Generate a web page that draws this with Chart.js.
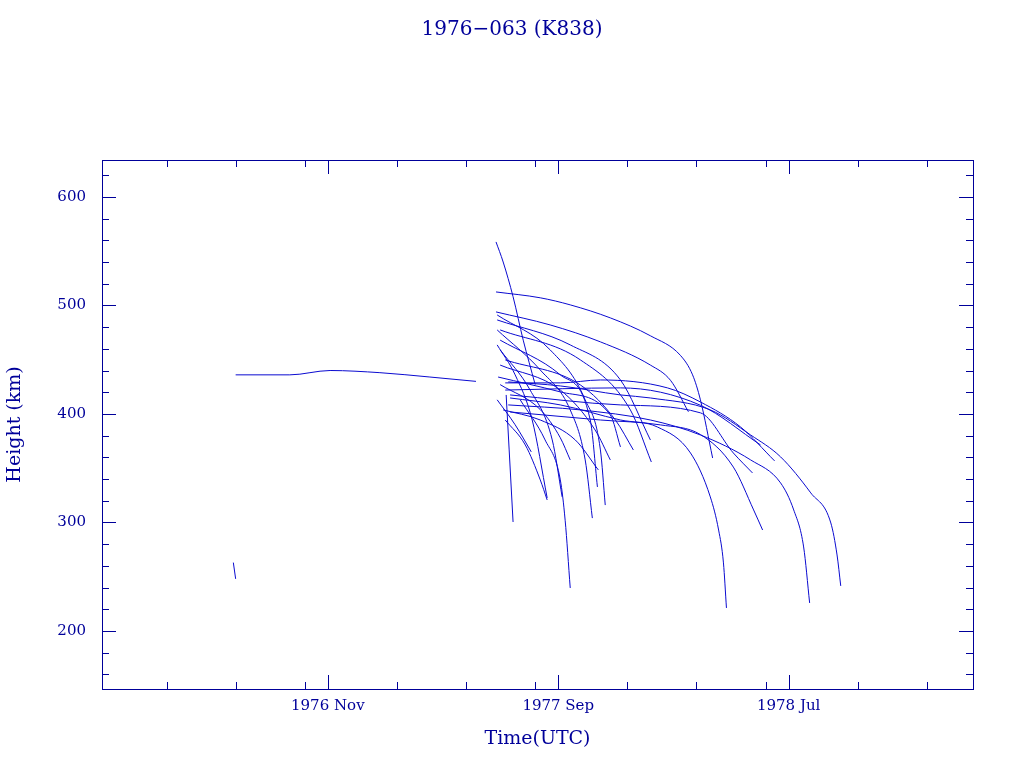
<!DOCTYPE html>
<html>
<head>
<meta charset="utf-8">
<script src="https://cdn.jsdelivr.net/npm/chart.js@4"></script>
<style>
  body { margin: 0; background: #fff; }
  #wrap { width: 1024px; height: 768px; }
</style>
</head>
<body>
<div id="wrap"><canvas id="chart" width="1024" height="768"></canvas></div>
<script>
// x values are months counted from 1976 Jan (0), y is height in km
const titleText = '1976\u2212063 (K838)';
const xMajorTicks = [10, 20, 30];
const xTickLabels = ['1976 Nov', '1977 Sep', '1978 Jul'];
const xMinorTicks = [3, 6, 9, 13, 16, 19, 23, 26, 29, 33, 36];
const yMajorTicks = [200, 300, 400, 500, 600];
const yMinorTicks = [160, 180, 220, 240, 260, 280, 320, 340, 360, 380, 420, 440, 460, 480, 520, 540, 560, 580, 620];

// each track: [month, km] pairs
const tracks = [
    [[6.0, 436], [8.35, 436], [10.1, 440], [12.26, 438], [14.43, 434], [16.43, 430]],
    [[5.9, 263], [6.0, 248]],
    [[17.30, 558.5], [17.61, 540], [18.04, 508], [18.48, 468], [19.0, 427]],
    [[17.3, 512.4], [19.22, 507], [20.52, 500.5], [22.26, 488.5], [24.0, 472], [25.3, 454], [25.83, 436], [26.17, 413], [26.7, 359.4]],
    [[17.3, 494], [19.65, 482], [21.83, 466.4], [24.0, 445], [24.87, 431], [25.65, 402]],
    [[17.83, 429.5], [20.09, 425.8], [22.7, 417.5], [24.0, 414.7], [26.6, 403.7], [28.35, 380.6], [29.65, 360.4], [30.96, 327.2], [31.83, 299.5], [32.1, 270], [32.26, 241.5]],
    [[17.83, 408.3], [20.96, 403.7], [24.0, 394.4], [26.17, 380.6], [28.35, 357.6], [29.65, 336.4], [30.22, 311.5], [30.65, 277.4], [30.91, 225.8]],
    [[17.91, 414.7], [20.09, 408.3], [22.7, 394.4], [24.3, 388], [25.74, 364], [26.6, 323.5], [26.96, 293], [27.17, 262.7], [27.3, 221.2]],
    [[17.91, 401.8], [21.83, 394.4], [24.43, 389.9], [26.17, 381], [27.6, 351], [28.48, 311.5], [28.87, 293]],
    [[17.91, 417.5], [22.7, 408.3], [26.17, 401], [27.6, 364], [28.43, 345.6]],
    [[17.7, 428.6], [20.09, 428.6], [21.83, 431.3], [24.74, 424], [26.17, 411], [27.91, 388], [29.39, 356.7]],
    [[17.7, 422], [22.7, 424], [26.17, 408], [28.78, 371.4]],
    [[17.74, 417.5], [17.87, 366.8], [18.04, 300.4]],
    [[18.35, 413], [19.43, 376], [20.09, 339.2], [20.3, 302], [20.52, 239.6]],
    [[17.35, 463.6], [18.13, 436], [18.87, 394.4], [19.52, 322.6]],
    [[17.48, 459], [18.78, 422], [19.74, 376], [20.17, 323.5]],
    [[17.35, 413], [18.13, 390], [18.83, 365]],
    [[17.48, 427], [19.22, 404], [20.09, 378], [20.52, 357.6]],
    [[17.35, 477.4], [19.22, 440.5], [20.52, 403.7], [21.17, 357.6], [21.48, 304]],
    [[17.35, 491.2], [19.65, 459], [21.17, 412.9], [21.83, 366.8], [22.04, 316]],
    [[17.48, 445], [20.09, 422], [21.6, 385.2], [22.26, 357.6]],
    [[17.48, 468], [20.09, 436], [21.39, 394.4], [21.7, 332.7]],
    [[17.7, 449.8], [20.96, 426.7], [22.48, 394.4], [23.26, 366.8]],
    [[17.35, 486.6], [20.52, 463.6], [22.7, 431.3], [24.0, 376]],
    [[17.48, 477.4], [20.96, 449.8], [23.13, 403.7], [24.04, 355.7]],
    [[17.7, 394.4], [18.57, 371.4], [19.22, 339.2], [19.52, 320.7]],
    [[17.61, 403.7], [19.22, 394.4], [20.74, 376], [21.74, 348.4]],
    [[17.39, 434], [20.09, 420.3], [22.26, 399], [22.7, 369.6]]
];

const lineColor = '#0a0ad0';
const axisColor = '#00009a';
const fontName = '"DejaVu Serif", "Liberation Serif", serif';

const datasets = tracks.map(t => ({
    data: t.map(p => ({ x: p[0], y: p[1] })),
    borderColor: lineColor,
    borderWidth: 1,
    pointRadius: 0,
    fill: false,
    cubicInterpolationMode: 'monotone'
}));

// frame, inward ticks and title, drawn like the original plot
const framePlugin = {
    id: 'frame',
    afterDraw(c) {
        const ctx = c.ctx, a = c.chartArea;
        const xs = c.scales.x, ys = c.scales.y;
        ctx.save();
        ctx.strokeStyle = axisColor;
        ctx.lineWidth = 1;
        ctx.strokeRect(a.left + 0.5, a.top + 0.5, a.right - a.left, a.bottom - a.top);
        ctx.beginPath();
        const tickX = (v, len) => {
            const px = Math.round(xs.getPixelForValue(v)) + 0.5;
            ctx.moveTo(px, a.bottom); ctx.lineTo(px, a.bottom - len);
            ctx.moveTo(px, a.top); ctx.lineTo(px, a.top + len);
        };
        const tickY = (v, len) => {
            const py = Math.round(ys.getPixelForValue(v)) + 0.5;
            ctx.moveTo(a.left, py); ctx.lineTo(a.left + len, py);
            ctx.moveTo(a.right, py); ctx.lineTo(a.right - len, py);
        };
        xMajorTicks.forEach(v => tickX(v, 14));
        xMinorTicks.forEach(v => tickX(v, 7));
        yMajorTicks.forEach(v => tickY(v, 14));
        yMinorTicks.forEach(v => tickY(v, 7));
        ctx.stroke();
        ctx.fillStyle = axisColor;
        ctx.font = '20px ' + fontName;
        ctx.textAlign = 'center';
        ctx.textBaseline = 'middle';
        ctx.fillText(titleText, 512, 30);
        ctx.restore();
    }
};

const ctx = document.getElementById('chart').getContext('2d');
const chart = new Chart(ctx, {
    type: 'line',
    data: { datasets: datasets },
    options: {
        responsive: false,
        animation: false,
        layout: { padding: { top: 160, right: 51, left: 0, bottom: 0 } },
        plugins: { legend: { display: false }, tooltip: { enabled: false } },
        scales: {
            x: {
                type: 'linear',
                min: 0.2,
                max: 38,
                grid: { display: false },
                border: { display: false },
                afterFit(s) { s.height = 79; },
                afterBuildTicks(s) { s.ticks = xMajorTicks.map(v => ({ value: v })); },
                ticks: {
                    color: axisColor,
                    font: { family: fontName, size: 15 },
                    padding: 0,
                    maxRotation: 0,
                    callback: (v) => xTickLabels[xMajorTicks.indexOf(v)]
                },
                title: {
                    display: true,
                    text: 'Time(UTC)',
                    color: axisColor,
                    font: { family: fontName, size: 19 },
                    padding: { top: 0, bottom: 18 }
                }
            },
            y: {
                min: 146.5,
                max: 634,
                grid: { display: false },
                border: { display: false },
                afterFit(s) { s.width = 102; },
                afterBuildTicks(s) { s.ticks = yMajorTicks.map(v => ({ value: v })); },
                ticks: {
                    color: axisColor,
                    font: { family: fontName, size: 15 },
                    padding: 8
                },
                title: {
                    display: true,
                    text: 'Height (km)',
                    color: axisColor,
                    font: { family: fontName, size: 19 },
                    padding: { bottom: 18 }
                }
            }
        }
    },
    plugins: [framePlugin]
});
</script>
</body>
</html>
